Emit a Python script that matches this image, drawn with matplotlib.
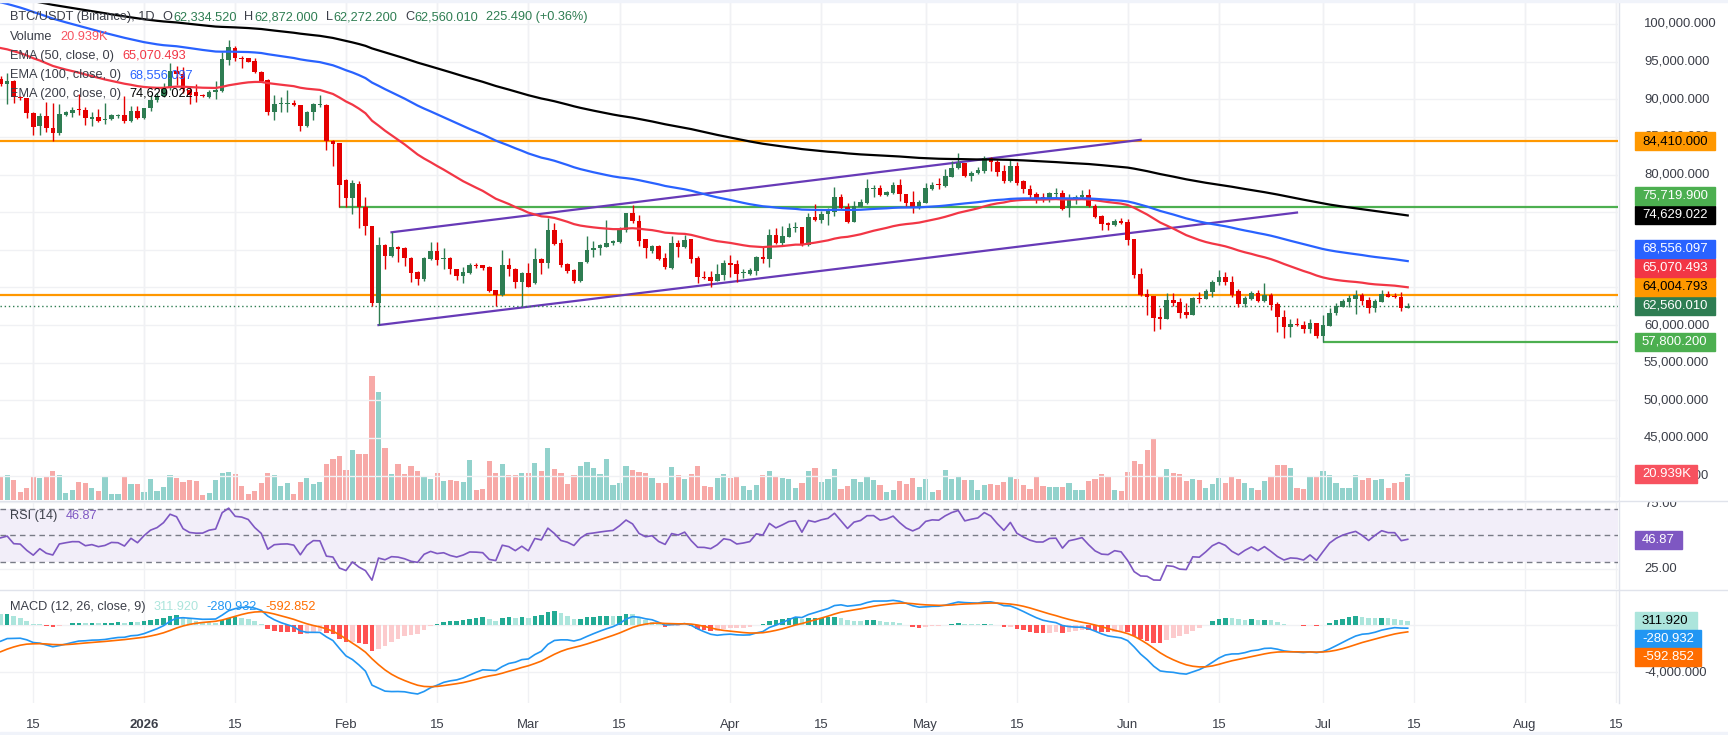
import numpy as np
import matplotlib
matplotlib.use("Agg")
import matplotlib.pyplot as plt
from matplotlib.patches import Rectangle

plt.rcParams['font.family'] = ['Liberation Sans', 'DejaVu Sans']

# ---------------------------
# Data: daily BTC/USDT candles, 10 Dec 2025 .. 14 Jul 2026
# x = days counted from 1 Jan 2026
# ---------------------------
first_day = -22

opens = [
    92650, 91980, 92430, 90250, 90120, 88130, 86450, 87780, 86140, 85470,
    87910, 88220, 88600, 88570, 87380, 87600, 87240, 87330, 87800, 87900,
    87160, 88440, 87550, 88800, 89900, 90430, 91450, 93800, 93400, 91230,
    91000, 90500, 90350, 91010, 91140, 95220, 96860, 95500, 95440, 95080,
    93580, 92560, 88350, 89360, 89400, 89550, 89190, 86450, 88310, 89200,
    89240, 84460, 84150, 79300, 76930, 78740, 75730, 73160, 62890, 70640,
    69170, 70330, 70190, 68860, 67090, 66160, 68820, 69880, 68800, 68860,
    67400, 66520, 66960, 67950, 67970, 67760, 64660, 63990, 67980, 67400,
    65760, 66960, 65540, 68820, 68250, 72630, 70950, 68110, 67320, 65850,
    68380, 69930, 70190, 70410, 70860, 71080, 72630, 74840, 73870, 71390,
    69880, 70500, 68950, 67620, 70860, 70410, 71390, 68860, 66400, 66340,
    65850, 66650, 68290, 68070, 66900, 66780, 67230, 69000, 68820, 71960,
    70950, 71740, 72950, 72980, 70640, 74310, 73960, 74710, 75060, 76970,
    75730, 73740, 75730, 76260, 78100, 78160, 77280, 77590, 78610, 77370,
    76350, 75640, 76260, 78070, 78650, 78480, 79710, 80820, 81490, 79850,
    80160, 80510, 82150, 81620, 80470, 79180, 81130, 79140, 78080, 77410,
    76970, 76700, 77450, 77590, 75510, 76830, 76970, 77280, 75860, 74490,
    73600, 73290, 73870, 73740, 71430, 66780, 64130, 63860, 61030, 60850,
    63330, 63110, 61780, 61340, 63640, 63460, 64430, 65680, 66430, 65720,
    64520, 62800, 63460, 64210, 63240, 63990, 62800, 61030, 59790, 60140,
    60000, 59470, 60230, 58590, 59920, 61560, 62440, 63110, 63460, 63990,
    63330, 62220, 63110, 64120, 63900, 63770, 62334.52,
]
highs = [
    93100, 93450, 92600, 90400, 90200, 88300, 88130, 89680, 89460, 89330,
    88500, 89020, 90700, 88930, 88350, 88660, 89460, 88000, 88050, 90430,
    89100, 89100, 88900, 90570, 90790, 92120, 94770, 94420, 94330, 91450,
    91980, 90700, 91200, 92430, 96320, 97870, 97080, 95800, 95500, 95440,
    93700, 92700, 90570, 90260, 91230, 89900, 89300, 88500, 89460, 90570,
    89400, 84600, 84200, 79360, 79300, 79140, 77060, 73200, 71650, 70800,
    72320, 70500, 70400, 69000, 67200, 69000, 70990, 70990, 70190, 69000,
    67500, 67760, 68290, 68200, 68000, 67800, 64700, 69970, 68950, 67620,
    67000, 68200, 70190, 68900, 74180, 73520, 71390, 68200, 67400, 68400,
    71830, 71210, 70800, 73960, 71300, 73070, 74900, 75950, 74620, 71500,
    70600, 70600, 69530, 71830, 71300, 71960, 71500, 69220, 67180, 67180,
    68070, 68640, 69310, 68640, 67400, 67620, 69170, 70410, 72720, 72850,
    73160, 73520, 73740, 73070, 74840, 76080, 75200, 75600, 78300, 77410,
    76260, 76480, 76750, 79360, 78610, 78610, 77850, 79050, 79360, 77400,
    77850, 76620, 78920, 79050, 79490, 80690, 81800, 82820, 81500, 80510,
    81040, 82500, 82370, 81930, 81270, 82060, 81710, 79270, 78610, 77720,
    77500, 77720, 78160, 77940, 77410, 77280, 77940, 78030, 76080, 74600,
    73700, 74050, 74180, 74050, 71430, 67540, 64750, 63860, 62220, 64300,
    64210, 63550, 62890, 63770, 64350, 64790, 65990, 67310, 67090, 66520,
    64790, 63800, 64520, 64660, 65540, 64210, 63110, 62000, 60800, 60890,
    60540, 60800, 60300, 61340, 62220, 62970, 63460, 64000, 64660, 64300,
    63680, 63460, 64660, 64520, 64210, 64350, 62872.0,
]
lows = [
    91800, 89330, 89550, 89900, 87470, 85250, 85250, 85700, 84500, 85250,
    87800, 87600, 87900, 86580, 86490, 87020, 86670, 87200, 87470, 86800,
    87020, 87330, 87400, 88480, 89680, 90350, 91230, 91900, 90880, 89330,
    89680, 90300, 90200, 90030, 91010, 94550, 95080, 94200, 94900, 93530,
    92300, 87910, 87240, 88350, 88350, 89100, 85800, 86300, 87240, 88930,
    83260, 81170, 75720, 75730, 74710, 72940, 71960, 62500, 60000, 67400,
    69100, 68420, 67890, 65760, 65280, 65850, 68700, 67980, 67400, 66780,
    65990, 65630, 66800, 67540, 67310, 64350, 62530, 63900, 66520, 64880,
    62530, 65000, 65450, 66780, 67540, 70640, 67760, 66960, 65630, 65700,
    68200, 69090, 69260, 70400, 70700, 70900, 72320, 73520, 70500, 68860,
    69530, 68600, 67400, 67500, 69000, 70300, 68200, 65630, 66070, 65100,
    65800, 65990, 66400, 65760, 66300, 66700, 66650, 68290, 67760, 70770,
    70500, 71650, 72400, 70500, 70500, 73870, 73600, 73290, 74490, 75370,
    73600, 73740, 75640, 76080, 77060, 77150, 77150, 77410, 76530, 75730,
    74930, 75370, 76170, 78000, 78070, 78300, 79700, 80700, 79630, 79180,
    80070, 80250, 80510, 79800, 78830, 79050, 78610, 77590, 76840, 76170,
    76390, 76390, 76700, 75290, 74400, 76080, 76830, 75730, 74220, 72630,
    72630, 73160, 73430, 70640, 66300, 63900, 61340, 59250, 59470, 60800,
    62530, 60890, 60890, 61300, 62890, 63400, 63770, 65320, 65320, 63770,
    62350, 62350, 63330, 63110, 63110, 62000, 59120, 58230, 58460, 59900,
    58990, 58990, 58320, 57800.2, 59900, 61340, 62400, 62440, 61420, 62660,
    61650, 61780, 63020, 63680, 63640, 61910, 62272.2,
]
closes = [
    91980, 92430, 90250, 90120, 88130, 86360, 87780, 86140, 85470, 88000,
    88310, 88570, 88550, 87470, 87690, 87160, 87380, 87910, 87850, 87160,
    88440, 87550, 88800, 89900, 90430, 91540, 93800, 93400, 91320, 90570,
    90430, 90450, 91010, 91230, 95300, 96900, 95530, 95400, 95000, 93580,
    92430, 88350, 89330, 89460, 89500, 89190, 86450, 88310, 89330, 89280,
    84460, 84100, 78610, 76930, 78850, 75730, 73160, 62890, 70640, 69170,
    70410, 70060, 68860, 66960, 66160, 68860, 69880, 68640, 68900, 67400,
    66520, 67090, 67930, 67850, 67620, 64570, 63990, 67980, 67400, 65760,
    66960, 65100, 68820, 68290, 72630, 70730, 67980, 67230, 65850, 68380,
    69970, 70280, 70640, 70940, 71170, 72720, 74840, 73870, 71210, 70190,
    70500, 68730, 67760, 70860, 70410, 71300, 68730, 66340, 66300, 65850,
    66780, 68290, 67980, 66780, 67000, 67310, 69090, 68800, 71960, 70950,
    71830, 72850, 73070, 70640, 74310, 73960, 74710, 75200, 77060, 75510,
    73740, 75820, 76390, 78160, 78200, 77280, 77680, 78610, 77370, 76260,
    75640, 76350, 78160, 78610, 78550, 79800, 80820, 81490, 79800, 80250,
    80600, 82150, 81620, 80380, 79180, 81130, 78920, 78030, 77280, 76840,
    76840, 77500, 77550, 75380, 76700, 76970, 77280, 75820, 74310, 73430,
    73290, 73870, 73600, 71300, 66650, 63990, 63770, 60980, 60850, 63330,
    62970, 61560, 61340, 63640, 63500, 64520, 65760, 66430, 65680, 63950,
    62800, 63640, 64300, 63240, 63990, 62660, 61030, 59790, 60140, 60000,
    59470, 60230, 58590, 60000, 61560, 62530, 63200, 63640, 64000, 63240,
    62220, 63200, 64120, 63770, 63770, 62334.52, 62560.01,
]
volume_k = [
    18.3, 19.9, 15.9, 6.4, 9.6, 19.1, 17.5, 18.3, 23.1, 19.9,
    5.6, 8.0, 14.3, 13.5, 9.6, 7.2, 18.3, 4.8, 4.8, 19.1,
    12.7, 12.7, 6.4, 16.7, 7.2, 10.4, 19.9, 17.5, 14.3, 15.9,
    15.1, 4.0, 5.6, 15.9, 21.5, 22.3, 20.7, 11.1, 4.8, 7.2,
    13.5, 21.5, 19.9, 11.1, 13.5, 4.8, 14.3, 17.5, 12.7, 14.3,
    28.7, 32.6, 35.0, 23.9, 39.8, 36.6, 36.6, 98.7, 86.0, 41.4,
    20.7, 28.7, 20.7, 27.1, 23.1, 19.1, 16.7, 21.5, 15.1, 15.9,
    15.1, 14.3, 31.8, 8.0, 8.8, 31.1, 21.5, 28.7, 19.9, 19.9,
    21.5, 21.5, 29.5, 23.1, 41.4, 24.7, 21.5, 12.7, 19.9, 27.1,
    30.3, 25.5, 20.7, 32.6, 11.9, 13.5, 27.1, 23.9, 22.3, 21.5,
    17.5, 13.5, 13.5, 26.3, 19.9, 16.7, 20.7, 27.1, 11.1, 10.4,
    17.5, 20.7, 17.5, 19.1, 11.1, 8.0, 11.9, 19.9, 23.1, 19.1,
    17.5, 16.7, 9.6, 13.5, 23.1, 25.5, 14.3, 16.7, 24.7, 8.8,
    11.1, 16.7, 14.3, 19.1, 15.9, 11.9, 6.4, 8.0, 15.1, 12.7,
    17.5, 10.4, 16.7, 6.4, 8.0, 23.9, 16.7, 18.3, 15.9, 15.9,
    8.0, 11.9, 12.7, 11.9, 14.3, 19.1, 16.7, 11.9, 8.8, 18.3,
    11.1, 10.4, 10.4, 10.4, 13.5, 8.0, 8.0, 15.1, 16.7, 20.7,
    18.3, 8.0, 7.2, 22.3, 31.1, 28.7, 39.8, 48.6, 19.1, 24.7,
    21.5, 20.7, 15.1, 16.7, 15.9, 9.6, 12.7, 17.5, 13.5, 18.3,
    16.7, 13.5, 9.6, 8.0, 15.1, 19.1, 27.9, 27.9, 25.5, 9.6,
    8.8, 19.1, 19.1, 23.1, 19.9, 13.5, 9.6, 9.6, 19.9, 15.9,
    17.5, 15.9, 16.7, 9.6, 13.5, 14.0, 20.939,
]

# indicator starting states (values just before the first visible candle)
ema_seed = {50: 97000, 100: 103100, 200: 103850}
macd_seed = (90700, 92300, -2500)      # ema12, ema26, signal
rsi_seed = (700, 700)                  # avg gain, avg loss

# drawings
orange_levels = [84410.000, 64004.793]
green_levels = [(30, 75719.900), (181, 57800.200)]
channel_lower = ([36, 177], [60000, 74950])
channel_upper = ([38, 153], [72330, 84610])

# last values shown in the legend / price scale
ema_last = {50: '65,070.493', 100: '68,556.097', 200: '74,629.022'}
ema_last_val = {50: 65070.493, 100: 68556.097, 200: 74629.022}
rsi_last = 46.87
macd_last = (311.920, -280.932, -592.852)   # hist, macd, signal

tick_days = [-17, 0, 14, 31, 45, 59, 73, 90, 104, 120, 134, 151, 165, 181, 195, 212, 226]
tick_text = ['15', '2026', '15', 'Feb', '15', 'Mar', '15', 'Apr', '15', 'May', '15',
             'Jun', '15', 'Jul', '15', 'Aug', '15']

# ---------------------------
# Indicators
# ---------------------------
def ema(vals, n, seed):
    a = 2.0 / (n + 1)
    e = seed
    out = []
    for v in vals:
        e = e + a * (v - e)
        out.append(e)
    return np.array(out)


def rsi(vals, prev, ag, al):
    out = []
    for v in vals:
        ch = v - prev
        prev = v
        ag = (ag * 13 + max(ch, 0)) / 14
        al = (al * 13 + max(-ch, 0)) / 14
        out.append(100 - 100 / (1 + ag / al))
    return np.array(out)


o = np.array(opens, float)
h = np.array(highs, float)
l = np.array(lows, float)
c = np.array(closes, float)
v = np.array(volume_k, float)
x = np.arange(first_day, first_day + len(c))

ema50 = ema(c, 50, ema_seed[50])
ema100 = ema(c, 100, ema_seed[100])
ema200 = ema(c, 200, ema_seed[200])
rsi14 = rsi(c, o[0], *rsi_seed)
macd = ema(c, 12, macd_seed[0]) - ema(c, 26, macd_seed[1])
signal = ema(macd, 9, macd_seed[2])
hist = macd - signal

# ---------------------------
# Figure layout (pixel based)
# ---------------------------
W, H = 1728, 735
UP, DN = '#2e7d52', '#e50000'
GRID = '#f0f1f4'
SEP = '#e0e3eb'
TXT = '#3b3e48'


def rect(x0, y0, x1, y1):
    return [x0 / W, 1 - y1 / H, (x1 - x0) / W, (y1 - y0) / H]


fig = plt.figure(figsize=(W / 100, H / 100), dpi=100)
fig.patch.set_facecolor('white')
renderer = fig.canvas.get_renderer()


def fit_size(s, target_px):
    t = fig.text(0, 0, s, fontsize=10)
    w = t.get_window_extent(renderer).width
    t.remove()
    return 10 * target_px / w


FS_AX = fit_size('100,000.000', 73)
FS_LG = fit_size('BTC/USDT (Binance), 1D', 146)

axv = fig.add_axes(rect(0, 0, 1618, 500))
ax = fig.add_axes(rect(0, 0, 1618, 500))
axr = fig.add_axes(rect(0, 501, 1618, 589))
axm = fig.add_axes(rect(0, 590, 1618, 703))
ax.patch.set_alpha(0)

xl = (-22.106, 226.28)
for a in (axv, ax, axr, axm):
    a.set_xlim(*xl)
    for s in a.spines.values():
        s.set_visible(False)
    a.tick_params(left=False, right=False, labelleft=False, bottom=False, labelbottom=False)
    for d in tick_days:
        a.axvline(d, color=GRID, lw=1, zorder=0)

ax.set_ylim(36761, 103188)
axv.set_ylim(0, 500 / 1.256)
axr.set_ylim(9.6, 76.0)
axm.set_ylim(-6638, 2979)

for p in range(40000, 105000, 5000):
    ax.axhline(p, color=GRID, lw=1, zorder=0)

# volume
up = c >= o
axv.bar(x, v, width=0.8, color=np.where(up, '#92d2cc', '#f7a9a7'), linewidth=0)

# candles
col = np.where(up, UP, DN)
ax.vlines(x, np.minimum(l, np.minimum(o, c)), np.maximum(h, np.maximum(o, c)),
          color=col, lw=1, zorder=4)
ax.bar(x, np.maximum(np.abs(c - o), 130), bottom=np.minimum(o, c), width=0.7,
       color=col, linewidth=0, zorder=5)

# horizontal levels and channel
for lv in orange_levels:
    ax.axhline(lv, color='#ff9800', lw=1.6, zorder=3)
for d0, lv in green_levels:
    ax.hlines(lv, d0, xl[1], color='#4caf50', lw=1.6, zorder=3)
ax.plot(*channel_lower, color='#673ab7', lw=1.6, zorder=3)
ax.plot(*channel_upper, color='#673ab7', lw=1.6, zorder=3)
ax.axhline(c[-1], color=UP, lw=1, ls=(0, (1, 2)), zorder=3)

# EMAs
ax.plot(x, ema50, color='#f23645', lw=1.6, zorder=6)
ax.plot(x, ema100, color='#2962ff', lw=1.6, zorder=6)
ax.plot(x, ema200, color='black', lw=1.6, zorder=6)

# RSI panel
axr.axhspan(30, 70, color='#f2eef9', lw=0, zorder=0)
for lv in (75, 25):
    axr.axhline(lv, color=GRID, lw=1, zorder=0)
for lv in (70, 50, 30):
    axr.axhline(lv, color='#787b86', lw=1, ls=(0, (4, 3)), zorder=1)
axr.plot(x, rsi14, color='#7e57c2', lw=1.2, zorder=3)

# MACD panel
for lv in (0, -4000):
    axm.axhline(lv, color=GRID, lw=1, zorder=0)
prev = np.concatenate([[hist[0]], hist[:-1]])
hcol = np.where(hist >= 0, np.where(hist > prev, '#22ab94', '#ace5dc'),
                np.where(hist < prev, '#ff5252', '#fccbcd'))
axm.bar(x, hist, width=0.7, color=hcol, linewidth=0, zorder=2)
axm.plot(x, macd, color='#2196f3', lw=1.2, zorder=3)
axm.plot(x, signal, color='#ff6d00', lw=1.2, zorder=3)

# date labels
axm.set_xticks(tick_days)
axm.set_xticklabels(tick_text)
axm.tick_params(bottom=False, labelbottom=True, pad=8, labelsize=FS_AX, labelcolor=TXT)
for t in axm.get_xticklabels():
    if t.get_text() == '2026':
        t.set_fontweight('bold')

# separators
fig.add_artist(plt.Line2D([0, 1], [1 - 500.5 / H] * 2, color=SEP, lw=1, zorder=8))
fig.add_artist(plt.Line2D([0, 1], [1 - 589.5 / H] * 2, color=SEP, lw=1))
fig.add_artist(plt.Line2D([1618.5 / W] * 2, [1 - 703 / H, 1], color=SEP, lw=1))
fig.add_artist(Rectangle((0, 0), 1, 3.5 / H, transform=fig.transFigure, color='#f0f3fa', zorder=20))
fig.add_artist(Rectangle((0, 1 - 2 / H), 1, 2 / H, transform=fig.transFigure, color='#f0f3fa', zorder=20))
# the RSI scale's top label is slightly cut by the pane border, as on the reference
fig.add_artist(Rectangle((1620 / W, 1 - 500 / H), 108 / W, 3 / H, transform=fig.transFigure,
                         color='white', zorder=7))


# ---------------------------
# Price scale text and tags
# ---------------------------
def py(axis, val):
    return H - axis.transData.transform((0, val))[1]


def ptext(px, pyy, s, fs=None, **kw):
    return fig.text(px / W, 1 - pyy / H, s, va='center', ha='left',
                    fontsize=fs or FS_AX, **kw)


def tag(pyy, s, face, fg, width=80):
    fig.add_artist(Rectangle((1635 / W, 1 - (pyy + 9) / H), width / W, 18 / H,
                             transform=fig.transFigure, color=face, zorder=10))
    ptext(1642, pyy, s, color=fg, zorder=11)


for p in list(range(45000, 65000, 5000)) + [80000, 85000, 90000, 95000, 100000]:
    ptext(1644, py(ax, p), f'{p:,}.000', color=TXT, zorder=5)
ptext(1644, py(ax, 40000), '40,000.000', color=TXT, zorder=5)
ptext(1644, py(axr, 75) + 2, '75.00', color=TXT, zorder=5)
ptext(1644, py(axr, 25), '25.00', color=TXT, zorder=5)
ptext(1644, py(axm, -4000), '-4,000.000', color=TXT, zorder=5)

main_tags = sorted([
    (57800.2, '57,800.200', '#4caf50', 'white'),
    (c[-1], f'{c[-1]:,.3f}', UP, 'white'),
    (64004.793, '64,004.793', '#ff9800', 'black'),
    (ema_last_val[50], ema_last[50], '#f23645', 'white'),
    (ema_last_val[100], ema_last[100], '#2962ff', 'white'),
    (ema_last_val[200], ema_last[200], 'black', 'white'),
    (75719.9, '75,719.900', '#4caf50', 'white'),
    (84410.0, '84,410.000', '#ff9800', 'black'),
])
last_y = None
for val, s, face, fg in main_tags:
    yy = py(ax, val)
    if last_y is not None:
        yy = min(yy, last_y - 19)
    tag(yy, s, face, fg)
    last_y = yy

tag(H - axv.transData.transform((0, v[-1]))[1], f'{v[-1]:.3f}K', '#f7525f', 'white', width=62)
tag(py(axr, rsi_last), f'{rsi_last:.2f}', '#7e57c2', 'white', width=47)

yy = py(axm, macd_last[0])
tag(yy, f'{macd_last[0]:.3f}', '#ace5dc', 'black', width=62)
tag(yy + 18, f'{macd_last[1]:.3f}', '#2196f3', 'white', width=66)
tag(yy + 36, f'{macd_last[2]:.3f}', '#ff6d00', 'white', width=66)


# ---------------------------
# Legends (laid out left to right)
# ---------------------------
def legend_row(pyy, parts, x0=10):
    xx = x0
    for s, color, gap in parts:
        t = ptext(xx, pyy, s, fs=FS_LG, color=color)
        xx += t.get_window_extent(renderer).width + gap


ohlc = [('O', o[-1]), ('H', h[-1]), ('L', l[-1]), ('C', c[-1])]
row = [('BTC/USDT (Binance), 1D', TXT, 8)]
for lab, val in ohlc:
    row += [(lab, TXT, 0.5), (f'{val:,.3f}', UP, 8)]
row += [(f'{c[-1] - o[-1]:.3f} (+{(c[-1] - o[-1]) / o[-1] * 100:.2f}%)', UP, 0)]
legend_row(17, row)
legend_row(37, [('Volume', TXT, 8), (f'{v[-1]:.3f}K', '#f7525f', 0)])
legend_row(56, [('EMA (50, close, 0)', TXT, 8), (ema_last[50], '#f23645', 0)])
legend_row(75, [('EMA (100, close, 0)', TXT, 8), (ema_last[100], '#2962ff', 0)])
legend_row(94, [('EMA (200, close, 0)', TXT, 8), (ema_last[200], 'black', 0)])
legend_row(516, [('RSI (14)', TXT, 8), (f'{rsi_last:.2f}', '#7e57c2', 0)])
legend_row(607, [('MACD (12, 26, close, 9)', TXT, 8),
                 (f'{macd_last[0]:.3f}', '#ace5dc', 8),
                 (f'{macd_last[1]:.3f}', '#2196f3', 8),
                 (f'{macd_last[2]:.3f}', '#ff6d00', 0)])

fig.savefig('out.png', dpi=100, facecolor='white')
